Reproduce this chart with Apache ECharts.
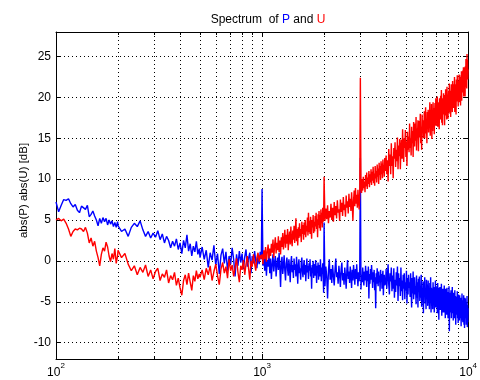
<!DOCTYPE html>
<html><head><meta charset="utf-8">
<script src="https://cdn.jsdelivr.net/npm/echarts@6.0.0/dist/echarts.min.js"></script>
<style>html,body{margin:0;padding:0;background:#fff}#c{width:480px;height:380px}</style>
</head><body><div id="c"></div>
<script>
// Frequency bins [Hz]
const freq = [
  100,103,106,109,112,115,118,121,124,127,130,133,136,139,142,145,148,151,154,157,160,163,166,169,172,175,178,181,184,187,190,193,196,199,
  200,208,216,224,232,240,248,256,264,272,280,288,296,304,312,320,328,336,344,352,360,368,376,384,392,400,408,416,424,432,440,448,456,464,472,480,488,496,
  500,512,524,536,548,560,572,584,596,608,620,632,644,656,668,680,692,704,716,728,740,752,764,776,788,800,812,824,836,848,860,872,884,896,908,920,932,944,956,968,980,992,
  1000,1010,1020,1030,1040,1050,1060,1070,1080,1090,1100,1110,1120,1130,1140,1150,1160,1170,1180,1190,
  1200,1210,1220,1230,1240,1250,1260,1270,1280,1290,1300,1310,1320,1330,1340,1350,1360,1370,1380,1390,
  1400,1410,1420,1430,1440,1450,1460,1470,1480,1490,1500,1510,1520,1530,1540,1550,1560,1570,1580,1590,
  1600,1610,1620,1630,1640,1650,1660,1670,1680,1690,1700,1710,1720,1730,1740,1750,1760,1770,1780,1790,
  1800,1810,1820,1830,1840,1850,1860,1870,1880,1890,1900,1910,1920,1930,1940,1950,1960,1970,1980,1990,
  2000,2020,2040,2060,2080,2100,2120,2140,2160,2180,2200,2220,2240,2260,2280,2300,2320,2340,2360,2380,
  2400,2420,2440,2460,2480,2500,2520,2540,2560,2580,2600,2620,2640,2660,2680,2700,2720,2740,2760,2780,
  2800,2820,2840,2860,2880,2900,2920,2940,2960,2980,3000,3020,3040,3060,3080,3100,3120,3140,3160,3180,
  3200,3220,3240,3260,3280,3300,3320,3340,3360,3380,3400,3420,3440,3460,3480,3500,3520,3540,3560,3580,
  3600,3620,3640,3660,3680,3700,3720,3740,3760,3780,3800,3820,3840,3860,3880,3900,3920,3940,3960,3980,
  4000,4030,4060,4090,4120,4150,4180,4210,4240,4270,4300,4330,4360,4390,4420,4450,4480,4510,4540,4570,
  4600,4630,4660,4690,4720,4750,4780,4810,4840,4870,4900,4930,4960,4990,5020,5050,5080,5110,5140,5170,
  5200,5230,5260,5290,5320,5350,5380,5410,5440,5470,5500,5530,5560,5590,5620,5650,5680,5710,5740,5770,
  5800,5830,5860,5890,5920,5950,5980,6010,6040,6070,6100,6130,6160,6190,6220,6250,6280,6310,6340,6370,
  6400,6430,6460,6490,6520,6550,6580,6610,6640,6670,6700,6730,6760,6790,6820,6850,6880,6910,6940,6970,
  7000,7030,7060,7090,7120,7150,7180,7210,7240,7270,7300,7330,7360,7390,7420,7450,7480,7510,7540,7570,
  7600,7630,7660,7690,7720,7750,7780,7810,7840,7870,7900,7930,7960,7990,8020,8050,8080,8110,8140,8170,
  8200,8230,8260,8290,8320,8350,8380,8410,8440,8470,8500,8530,8560,8590,8620,8650,8680,8710,8740,8770,
  8800,8830,8860,8890,8920,8950,8980,9010,9040,9070,9100,9130,9160,9190,9220,9250,9280,9310,9340,9370,
  9400,9430,9460,9490,9520,9550,9580,9610,9640,9670,9700,9730,9760,9790,9820,9850,9880,9910,9940,9970,
  10000
];
// abs(P) [dB] (blue)
const absP = [
  7.2,6.0,6.8,7.5,7.4,7.6,7.0,6.6,6.9,6.2,5.9,6.7,6.9,6.3,6.8,5.4,5.7,6.1,5.5,5.0,4.3,5.2,4.6,5.3,4.8,5.2,4.4,5.0,4.5,4.9,4.2,4.7,4.1,4.8,
  4.3,3.6,3.9,3.0,4.1,4.6,4.2,4.9,3.8,3.0,3.6,2.8,3.4,2.9,3.7,2.6,3.3,2.2,3.0,2.5,1.6,2.4,1.8,2.7,1.4,2.2,0.9,2.5,1.6,3.2,1.2,2.1,0.6,1.8,1.1,2.4,0.8,1.5,
  0.4,1.7,0.2,1.3,-0.8,1.0,0.1,1.9,-0.5,0.9,-1.6,0.7,1.5,-0.3,1.1,-1.2,0.6,-0.4,1.6,0.2,-1.9,0.8,-0.6,1.2,-0.2,0.9,-1.0,0.5,1.4,-0.7,0.3,1.0,-1.5,0.6,-0.3,1.2,0.0,-0.9,0.7,-0.4,1.1,0.2,
  8.8,-0.6,0.9,-1.2,0.5,-1.8,0.1,-0.7,1.0,-1.5,0.3,-2.2,-0.4,0.8,-1.3,-0.2,0.6,-1.9,-0.5,0.4,
  -1.1,1.0,-0.8,-3.2,-0.1,0.5,-1.6,-0.6,0.7,-1.2,-2.4,-0.3,0.4,-1.0,-1.8,0.2,-0.9,-2.6,-0.2,0.6,
  -1.4,-0.5,-2.1,0.3,-1.1,-0.4,-1.9,0.5,-0.8,-2.8,-0.6,0.2,-1.5,-0.9,-2.3,-0.2,0.4,-1.3,-2.0,-0.7,
  0.1,-1.7,-0.5,-2.5,-1.0,0.3,-1.4,-0.6,-2.2,-0.3,-1.2,0.2,-1.9,-0.8,-3.4,-0.5,-1.5,0.0,-2.1,-1.0,
  -0.4,-1.8,0.1,-1.1,-2.7,-0.6,-1.4,-0.2,-2.3,-1.0,-0.5,-1.9,0.2,-1.3,-2.5,-0.8,-1.6,-0.3,-2.0,-3.9,
  4.7,-3.1,-0.7,-1.9,-4.6,-1.2,0.2,-2.3,-1.0,-2.7,-0.5,-1.8,-3.0,-1.1,0.3,-2.0,-1.4,-2.8,-0.6,-1.7,
  -3.2,-1.0,-0.2,-2.4,-1.5,-2.9,-0.8,-1.9,-3.4,-1.2,0.1,-2.2,-1.3,-2.7,-0.7,-1.8,-3.3,-1.1,-2.4,-0.5,
  -1.6,-2.9,-1.0,-2.2,-0.4,-1.9,-3.1,-1.4,-2.5,-0.9,12.6,-3.5,-1.7,-2.6,-0.8,-2.1,-3.0,-1.3,-2.4,-0.6,
  -1.9,-3.2,-1.2,-2.5,-0.7,-4.6,-1.6,-2.8,-1.0,-2.3,-0.5,-1.8,-3.3,-1.4,-2.6,-1.1,-3.6,-2.0,-5.8,-1.5,
  -2.8,-0.9,-2.2,-3.1,-1.3,-2.6,-1.8,-3.7,-1.1,-2.5,-1.6,-3.4,-2.0,-1.2,-4.2,-2.3,-1.7,-3.0,-2.1,-2.9,
  -1.0,-3.4,-1.8,-0.4,-2.9,-4.1,-1.5,-2.5,-0.8,-3.7,-1.8,-3.4,-0.9,-4.5,-2.3,-3.8,-1.4,-3.0,-0.7,-4.9,
  -1.5,-3.1,-2.1,-4.3,-0.8,-3.7,-2.4,-4.8,-1.7,-3.4,-1.5,-4.7,-2.6,-3.6,-1.2,-5.2,-2.1,-4.1,-1.7,-3.3,
  -2.6,-4.4,-1.5,-3.7,-5.7,-2.1,-4.0,-1.3,-4.7,-3.0,-2.0,-4.1,-3.1,-5.3,-1.8,-4.5,-2.6,-5.7,-2.2,-3.8,
  -1.9,-4.9,-3.1,-4.5,-1.7,-5.6,-3.4,-5.1,-2.5,-6.4,-2.6,-4.4,-2.0,-5.2,-3.4,-5.9,-2.3,-4.6,-2.9,-5.5,
  -2.4,-5.0,-3.7,-5.9,-2.7,-4.5,-2.0,-6.3,-3.3,-5.2,-3.4,-5.9,-2.6,-4.7,-3.2,-6.3,-3.8,-5.3,-2.4,-5.7,
  -3.1,-5.3,-4.2,-6.4,-2.7,-5.7,-3.9,-7.2,-3.3,-5.0,-3.2,-6.0,-4.0,-5.3,-2.8,-6.7,-4.3,-5.8,-3.4,-6.3,
  -3.8,-5.3,-3.0,-6.3,-4.2,-7.0,-3.4,-5.7,-4.5,-6.6,-3.3,-6.1,-4.5,-7.0,-3.8,-5.4,-3.1,-8.6,-4.2,-6.3,
  -3.9,-5.9,-3.6,-7.0,-4.8,-6.4,-3.2,-5.8,-4.3,-7.3,-3.9,-6.4,-4.8,-7.0,-3.6,-5.9,-4.3,-7.8,-4.6,-6.6,
  -4.4,-6.4,-3.7,-7.0,-5.3,-7.6,-4.1,-6.2,-4.6,-7.3,-4.2,-7.0,-5.1,-6.2,-4.5,-8.0,-4.9,-7.3,-4.0,-6.7,
  -4.8,-7.5,-5.5,-6.7,-4.2,-7.8,-5.3,-8.2,-4.5,-6.4,-4.6,-7.0,-5.1,-7.8,-5.8,-7.3,-4.3,-8.1,-5.4,-7.5,
  -5.8
];
// abs(U) [dB] (red)
const absU = [
  5.0,5.2,4.9,5.1,4.6,3.9,3.0,3.6,3.9,3.8,4.0,3.9,3.6,4.1,3.4,2.2,2.8,1.8,2.4,1.2,0.4,-0.6,0.8,1.6,1.2,2.3,1.7,0.6,-0.1,0.9,0.2,1.5,-0.3,0.6,
  1.3,0.4,0.9,-0.4,-1.2,-0.6,-1.7,-0.8,-1.4,-0.5,-1.9,-1.1,-2.2,-1.3,-0.9,-2.4,-1.6,-2.0,-1.1,-2.7,-1.8,-2.3,-1.4,-3.0,-2.1,-3.3,-4.2,-2.4,-1.7,-2.9,-1.5,-2.6,-3.6,-1.8,-2.5,-1.2,-2.2,-1.6,
  -2.0,-1.1,-2.3,-0.9,-1.7,-0.6,-2.4,-1.3,-0.4,-1.8,-2.9,-1.0,-0.2,-1.5,-0.7,-2.1,0.2,-1.2,-0.5,-1.9,-0.8,0.3,-1.4,-2.6,-0.6,-1.1,0.1,-1.7,-0.4,0.6,-0.9,-2.3,0.0,-0.7,0.8,-0.3,-1.2,0.4,1.0,-0.1,0.7,0.3,
  0.8,-0.4,1.3,0.2,1.7,-0.1,1.1,2.0,0.3,1.5,0.6,2.1,1.0,2.6,0.4,1.8,2.9,0.9,2.2,1.3,
  3.0,1.1,2.5,0.8,2.9,1.7,3.4,1.4,2.6,3.8,1.6,3.2,2.1,3.9,1.3,2.8,3.6,2.0,4.2,2.5,
  1.8,3.7,2.6,4.3,2.2,3.5,5.2,2.4,3.9,1.9,4.1,2.8,4.6,3.0,3.9,2.3,4.8,3.3,4.4,2.6,
  4.7,3.2,5.0,2.9,4.3,3.6,5.3,3.1,5.9,3.5,4.9,3.3,5.4,3.8,2.7,5.0,4.1,5.6,3.4,4.8,
  3.6,5.5,4.2,5.9,3.9,5.1,2.9,5.7,4.4,6.1,4.0,5.6,3.7,6.3,4.6,5.9,4.1,6.5,4.8,5.2,
  10.3,4.9,6.4,5.1,6.8,4.6,6.1,5.3,7.0,5.0,6.5,4.8,7.2,5.6,6.7,5.2,7.4,5.9,6.3,4.9,
  7.5,6.0,7.1,5.5,7.8,6.2,6.9,5.4,8.0,6.5,7.3,5.8,8.2,6.6,7.6,6.1,8.4,6.9,4.9,7.4,
  8.6,6.7,8.9,7.0,8.1,6.5,8.7,7.3,6.3,8.5,22.4,9.0,8.3,10.0,8.6,10.3,8.9,9.7,8.4,10.5,
  9.1,10.8,8.8,10.2,9.4,11.0,9.0,10.6,9.6,11.2,9.3,10.9,9.8,11.5,9.5,10.7,9.2,11.6,10.1,11.0,
  9.6,11.8,10.3,11.3,9.4,12.0,10.5,11.6,9.9,12.2,10.6,11.9,10.1,12.4,10.8,11.7,10.3,12.6,11.0,12.1,
  12.9,10.6,12.3,9.7,13.7,11.6,13.0,10.6,14.4,11.6,12.8,10.1,13.8,12.5,14.5,11.5,13.6,12.2,15.1,11.2,
  14.1,12.8,14.9,11.2,13.6,14.8,12.5,16.1,13.3,12.1,15.0,13.8,16.0,12.7,14.6,11.6,15.8,13.6,15.2,13.3,
  16.8,13.8,15.0,12.9,16.4,14.4,15.9,12.7,17.0,15.0,14.0,16.8,14.7,17.6,13.5,16.2,15.1,17.2,13.4,16.3,
  17.1,15.1,18.0,14.4,16.4,13.6,17.9,16.0,17.2,15.0,15.7,18.3,15.0,17.1,18.8,15.6,17.0,14.4,18.2,16.4,
  18.5,15.7,17.5,16.7,19.4,15.3,18.3,16.3,19.2,14.9,18.2,15.9,19.4,16.8,18.7,15.5,18.0,19.3,16.6,19.9,
  16.5,18.8,17.8,20.1,16.4,19.4,17.4,18.7,16.1,19.9,18.7,17.3,20.2,17.9,20.9,16.9,19.5,16.6,19.9,18.4,
  20.5,17.9,19.5,16.6,20.3,18.8,21.0,17.8,19.9,17.3,21.3,18.5,20.3,17.4,19.6,20.8,18.2,21.7,18.9,18.0,
  20.8,17.6,20.3,21.6,18.9,19.9,18.2,22.0,19.5,20.9,18.7,21.6,19.6,22.5,18.2,21.0,20.0,21.6,17.9,22.2,
  21.0,19.5,22.7,19.9,22.0,18.9,21.6,20.4,22.8,19.4,22.7,20.3,21.4,19.0,22.5,20.1,23.2,19.6,21.9,21.1,
  20.6,23.3,21.3,23.7,20.1,22.4,23.7,20.9,23.2,20.1,23.8,21.7,24.7,21.3,23.6,21.1,25.3,22.4,24.6,22.2,
  23.4
];
// Axis ticks and labels
const xRange = [100, 10000];
const xMajorTicks = [100, 1000, 10000];
const xMajorExponents = ['2', '3', '4'];
const xMinorTicks = [200,300,400,500,600,700,800,900,2000,3000,4000,5000,6000,7000,8000,9000];
const yRange = [-12, 28];
const yTicks = [-10, -5, 0, 5, 10, 15, 20, 25];
const titleParts = ['Spectrum  of ', 'P', ' and ', 'U'];
const yName = 'abs(P) abs(U) [dB]';

const FONT = '"Liberation Sans", Arial, Helvetica, sans-serif';
const dotted = { color: '#000', width: 1, type: [1, 3] };
const axLine = { show: true, onZero: false, lineStyle: { color: '#000', width: 1 } };
const noLabel = { show: false };

function xAxisDef(pos, ticks, len, showLine, showLabel, showSplit) {
  return {
    type: 'log', logBase: 10, min: xRange[0], max: xRange[1], position: pos, gridIndex: 0,
    axisLine: showLine ? axLine : { show: false, onZero: false },
    axisTick: { show: true, inside: true, length: len, customValues: ticks, lineStyle: { color: '#000', width: 1 } },
    axisLabel: showLabel ? {
      show: true, customValues: ticks, margin: 3,
      formatter: v => '{b|10}{s|' + xMajorExponents[xMajorTicks.indexOf(v)] + '}',
      rich: {
        b: { fontFamily: FONT, fontSize: 12, color: '#000', verticalAlign: 'bottom' },
        s: { fontFamily: FONT, fontSize: 8, color: '#000', verticalAlign: 'top', padding: [0, 0, 9, 0] }
      }
    } : noLabel,
    splitLine: { show: showSplit, lineStyle: dotted },
    minorTick: { show: false }, minorSplitLine: { show: false }
  };
}
function yAxisDef(pos, main) {
  return {
    type: 'value', min: yRange[0], max: yRange[1], position: pos, gridIndex: 0,
    axisLine: axLine,
    axisTick: { show: true, inside: true, length: 5, customValues: yTicks, lineStyle: { color: '#000', width: 1 } },
    axisLabel: main ? { show: true, customValues: yTicks, margin: 5, fontFamily: FONT, fontSize: 12, color: '#000' } : noLabel,
    splitLine: { show: main, lineStyle: dotted }
  };
}

const chart = echarts.init(document.getElementById('c'), null, { renderer: 'canvas' });
chart.setOption({
  animation: false,
  backgroundColor: '#fff',
  title: {
    text: '{k|' + titleParts[0] + '}{p|' + titleParts[1] + '}{k|' + titleParts[2] + '}{u|' + titleParts[3] + '}',
    left: 263, top: 9, textAlign: 'center',
    textStyle: {
      fontFamily: FONT, fontSize: 12, fontWeight: 'normal', color: '#000',
      rich: {
        k: { fontFamily: FONT, fontSize: 12, color: '#000' },
        p: { fontFamily: FONT, fontSize: 12, color: '#0000ff' },
        u: { fontFamily: FONT, fontSize: 12, color: '#ff0000' }
      }
    }
  },
  graphic: [{
    type: 'text', x: 23.5, y: 190.5, rotation: Math.PI / 2, silent: true,
    style: { text: yName, fontFamily: FONT, fontSize: 11.5, fill: '#000', align: 'center', verticalAlign: 'middle' }
  }],
  grid: { left: 56, top: 32, width: 415, height: 327, containLabel: false },
  xAxis: [
    xAxisDef('bottom', xMajorTicks, 5, true, true, true),
    xAxisDef('bottom', xMinorTicks, 3, false, false, true),
    xAxisDef('top', xMajorTicks, 5, true, false, false),
    xAxisDef('top', xMinorTicks, 3, false, false, false)
  ],
  yAxis: [yAxisDef('left', true), yAxisDef('right', false)],
  series: [
    {
      type: 'line', name: 'abs(P)', xAxisIndex: 0, yAxisIndex: 0,
      data: freq.map((f, i) => [f, absP[i]]),
      showSymbol: false, symbol: 'none', lineStyle: { color: '#0000ff', width: 1.4 }, z: 2
    },
    {
      type: 'line', name: 'abs(U)', xAxisIndex: 0, yAxisIndex: 0,
      data: freq.map((f, i) => [f, absU[i]]),
      showSymbol: false, symbol: 'none', lineStyle: { color: '#ff0000', width: 1.4 }, z: 3
    }
  ]
});
</script>
</body></html>
